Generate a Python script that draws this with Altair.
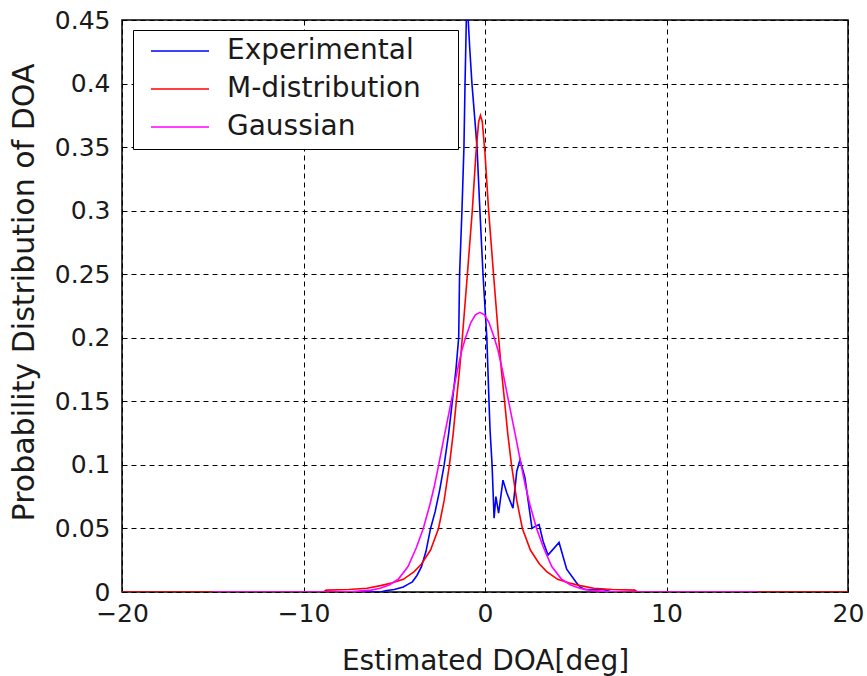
import altair as alt
import pandas as pd

# ---- data ----
series_names = ["Experimental", "M-distribution", "Gaussian"]
series_colors = ["#0000ff", "#ff0000", "#ff00ff"]

exp_x = [-15, -5.75, -5.5, -5.0, -4.5, -4.25, -4.0, -3.75, -3.5, -3.25, -3.0, -2.75, -2.5, -2.25,
         -2.0, -1.8, -1.6, -1.45, -1.4, -1.27, -1.16, -1.1, -1.0, -0.85, -0.72, -0.55, -0.44,
         -0.28, -0.11, 0.1, 0.22, 0.28, 0.39, 0.5, 0.6, 0.75, 0.99, 1.2, 1.54, 1.75, 1.93, 2.2,
         2.59, 2.8, 2.98, 3.2, 3.47, 4.08, 4.5, 5.0, 5.23, 5.5, 6.0, 6.5, 7.0, 15]
exp_y = [0, 0, 0.001, 0.002, 0.004, 0.006, 0.008, 0.013, 0.02, 0.032, 0.05, 0.063, 0.08, 0.1,
         0.125, 0.15, 0.175, 0.2, 0.25, 0.3, 0.35, 0.4, 0.47, 0.43, 0.4, 0.37, 0.35,
         0.3, 0.25, 0.2, 0.15, 0.127, 0.1, 0.058, 0.075, 0.062, 0.088, 0.078, 0.066, 0.095, 0.104, 0.09,
         0.05, 0.052, 0.053, 0.04, 0.029, 0.039, 0.018, 0.008, 0.004, 0.002, 0.002, 0.002, 0, 0]

m_x = [-20, -8.9, -8.75, -7.5, -6.5, -5.75, -5.15, -4.5, -3.9, -3.5, -3.0, -2.56, -2.25, -1.96,
       -1.75, -1.58, -1.4, -1.25, -0.97, -0.7, -0.5, -0.35, -0.25, -0.15, 0.0, 0.2, 0.47, 0.75,
       0.9, 1.08, 1.25, 1.46, 1.75, 2.06, 2.5, 3.0, 3.4, 4.0, 4.65, 5.25, 6.0, 7.0, 8.25, 8.4, 20]
m_y = [0, 0, 0.0015, 0.002, 0.003, 0.005, 0.007, 0.01, 0.016, 0.022, 0.033, 0.05, 0.072, 0.1,
       0.125, 0.15, 0.175, 0.2, 0.25, 0.3, 0.345, 0.37, 0.375, 0.37, 0.345, 0.3, 0.25, 0.2,
       0.175, 0.15, 0.125, 0.1, 0.072, 0.05, 0.033, 0.022, 0.016, 0.01, 0.007, 0.005, 0.003, 0.002, 0.0015, 0, 0]

g_x = [-15, -8.28, -7.28, -6.28, -5.78, -5.28, -4.78, -4.24, -3.78, -3.4, -3.03, -2.78, -2.55,
       -2.28, -1.86, -1.53, -1.28, -1.07, -0.78, -0.53, -0.28, -0.03, 0.22, 0.51, 0.72, 0.97,
       1.3, 1.72, 1.99, 2.22, 2.47, 2.84, 3.22, 3.68, 4.22, 4.72, 5.22, 5.72, 6.72, 7.72, 15]
g_y = [0, 0, 0.0003, 0.0015, 0.003, 0.0055, 0.01, 0.02, 0.035, 0.05, 0.069, 0.084, 0.1,
       0.12, 0.15, 0.174, 0.19, 0.2, 0.212, 0.218, 0.22, 0.218, 0.212, 0.2, 0.19, 0.174,
       0.15, 0.12, 0.1, 0.084, 0.069, 0.05, 0.035, 0.02, 0.01, 0.0055, 0.003, 0.0015, 0.0003, 0, 0]

x_ticks = [-20, -10, 0, 10, 20]
y_ticks = [0, 0.05, 0.1, 0.15, 0.2, 0.25, 0.3, 0.35, 0.4, 0.45]

rows = []
for name, xs, ys in zip(series_names, [exp_x, m_x, g_x], [exp_y, m_y, g_y]):
    assert len(xs) == len(ys)
    for xv, yv in zip(xs, ys):
        rows.append({"doa": xv, "p": yv, "series": name})
df = pd.DataFrame(rows)

FONT = "DejaVu Sans"
TXT = "#1a1a1a"

chart = alt.Chart(df).mark_line(clip=True, strokeWidth=1.6).encode(
    x=alt.X("doa:Q",
            scale=alt.Scale(domain=[-20, 20], nice=False, zero=False),
            axis=alt.Axis(values=x_ticks, title="Estimated DOA[deg]", labelFlush=False,
                          labelPadding=9, titleY=55, titleBaseline="top")),
    y=alt.Y("p:Q",
            scale=alt.Scale(domain=[0, 0.45], nice=False),
            axis=alt.Axis(values=y_ticks, format="~g", title="Probability Distribution of DOA",
                          labelPadding=12, titleX=-98, titleY=272, titleBaseline="middle",
                          titleAlign="center", titleFontSize=30)),
    color=alt.Color("series:N",
                    scale=alt.Scale(domain=series_names, range=series_colors),
                    legend=alt.Legend(orient="none", legendX=11, legendY=10, title=" ",
                                      titleOrient="right", titlePadding=29,
                                      strokeColor="black", fillColor="white", padding=8,
                                      symbolType="stroke", symbolSize=3364, symbolStrokeWidth=1.6,
                                      symbolOffset=9, labelFontSize=28, labelOffset=17,
                                      labelLimit=500,
                                      labelFont=FONT, labelColor=TXT, clipHeight=26, rowPadding=10,
                                      direction="vertical")),
).properties(
    width=726, height=572,
    padding={"left": 122, "top": 20, "right": 19, "bottom": 84},
    autosize=alt.AutoSizeParams(type="none"),
).configure_view(
    stroke="black", strokeWidth=1.5
).configure_axis(
    domain=False, ticks=False,
    grid=True, gridColor="black", gridDash=[5, 4], gridWidth=1, gridOpacity=1,
    labelFont=FONT, labelFontSize=25, labelColor=TXT,
    titleFont=FONT, titleFontSize=28, titleFontWeight="normal", titleColor=TXT,
)

chart.save("out.html", embed_options={"renderer": "svg", "actions": False})
